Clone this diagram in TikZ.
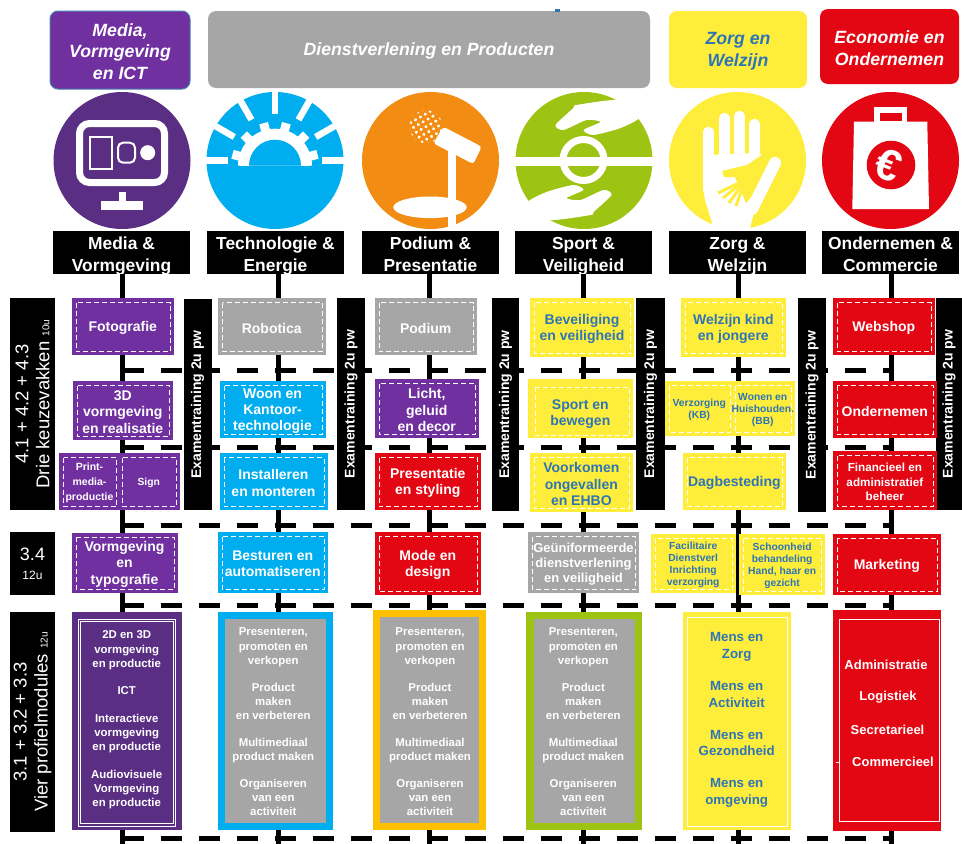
\documentclass[tikz,border=0pt]{standalone}
\usepackage{fontspec}
\setmainfont{Liberation Sans}
\definecolor{modpurple}{HTML}{7030A0}
\definecolor{iconpurple}{HTML}{5A2F83}
\definecolor{modgray}{HTML}{A6A6A6}
\definecolor{modblue}{HTML}{00AEEF}
\definecolor{modred}{HTML}{E30613}
\definecolor{modyellow}{HTML}{FFED3B}
\definecolor{modgreen}{HTML}{9DC313}
\definecolor{modorange}{HTML}{FFC000}
\definecolor{iconorange}{HTML}{F28C12}
\definecolor{labelblue}{HTML}{2E75B6}
\tikzset{
  header/.style={rectangle, rounded corners=8pt, fill=#1, text=white, align=center, inner sep=0pt,
                 font=\fontsize{17.7}{21.5}\selectfont\bfseries\itshape},
  sectorlabel/.style={rectangle, fill=black, inner sep=0pt,
                 minimum width=137pt, minimum height=43pt},
  sectortext/.style={text=white, align=center, inner sep=0pt,
                 font=\fontsize{17.4}{21.7}\selectfont\bfseries},
  yearblock/.style={rectangle, fill=black, text=white, align=center, inner sep=0pt,
                 rotate=90, font=\fontsize{18.5}{21}\selectfont},
  exambar/.style={rectangle, fill=black, text=white, align=center, inner sep=0pt,
                 rotate=90, minimum height=28pt,
                 font=\fontsize{14}{16}\selectfont\bfseries},
  mod/.style={rectangle, fill=#1, text=white, align=center, inner sep=0pt, outer sep=0pt,
              font=\fontsize{14}{16.3}\selectfont\bfseries},
  modsmall/.style={font=\fontsize{10.3}{12.2}\selectfont\bfseries},
  modmid/.style={font=\fontsize{11.7}{14.5}\selectfont\bfseries},
  innerdash/.style={white, line width=1pt, dash pattern=on 5pt off 3pt},
  spine/.style={black, line width=5pt},
  tierline/.style={black, line width=5pt, dash pattern=on 21pt off 17pt},
  proftext/.style={text=white, align=center, inner sep=0pt,
              font=\fontsize{11.4}{14.3}\selectfont\bfseries},
}
% node from its corners: name, left, top, right, bottom, options, text
\newcommand{\rectnode}[7]{%
  \pgfmathsetmacro\boxcx{(#2+#4)/2}\pgfmathsetmacro\boxcy{(#3+#5)/2}%
  \pgfmathsetmacro\boxw{#4-#2}\pgfmathsetmacro\boxh{#5-#3}%
  \node[#6, minimum width=\boxw pt, minimum height=\boxh pt] (#1) at (\boxcx,\boxcy) {};
  \node[#6, fill=none, draw=none, yshift=-1.5pt] (#1text) at (#1.center) {#7};}
% same, with the dashed inner frame
\newcommand{\modbox}[7]{%
  \rectnode{#1}{#2}{#3}{#4}{#5}{#6}{#7}
  \draw[innerdash] ([xshift=4.5pt,yshift=-4.5pt]#1.north west) rectangle ([xshift=-3.5pt,yshift=3.5pt]#1.south east);}
% black sector name, both lines on fixed baselines
\newcommand{\sector}[4]{%
  \node[sectorlabel] (sec#1) at (#2,252.5) {};
  \node[sectortext] (sec#1text) at (sec#1.center) {\rule{0pt}{21.8pt}#3\\#4\rule[-6.5pt]{0pt}{0pt}};}
\begin{document}
\begin{tikzpicture}[x=1pt, y=-1pt]
  \useasboundingbox (0,0) rectangle (962,844);

  % headers
  \rectnode{hdrMedia}{50}{11}{190}{89}{header=modpurple, draw=labelblue!80!modgray, line width=1pt}{Media,\\Vormgeving\\en ICT}
  \rectnode{hdrDienst}{208}{11}{650}{88}{header=modgray}{Dienstverlening en Producten}
  \rectnode{hdrZorg}{669}{11}{807}{88}{header=modyellow, text=labelblue}{Zorg en\\Welzijn}
  \rectnode{hdrEco}{820}{9}{959}{84}{header=modred}{Economie en\\Ondernemen}
  \fill[labelblue] (555,9) rectangle (560,11.5);

  % icons
  \fill[iconpurple] (122,160.5) circle (68.5);
  \draw[white, line width=7pt, rounded corners=10pt] (79.5,123.5) rectangle (164.5,182.5);
  \draw[white, line width=2pt] (89.5,136.7) rectangle (111.5,169.3);
  \draw[white, line width=2pt, rounded corners=5pt] (118,142.7) rectangle (135,162.7);
  \fill[white] (147.7,152.7) circle (7.5);
  \fill[white] (101,201) rectangle (143,210);
  \fill[white] (119.3,191.7) rectangle (126,201);

  \fill[modblue] (275,160.5) circle (68.5);
  \foreach \a in {0,30,...,180}
    \draw[white, line width=6.5pt] (275,160.5) ++(-\a:47) -- ++(-\a:24);
  \fill[white] (312,165.7) arc (0:-180:37) -- cycle;
  \foreach \a in {15,45,...,165}
    \draw[white, line width=9pt] (275,165.7) ++(-\a:33) -- ++(-\a:11);
  \fill[white] (240,158) rectangle (250,165.7);
  \fill[white] (300,158) rectangle (310,165.7);
  \fill[modblue] (301,165.7) arc (0:-180:26) -- cycle;

  \fill[iconorange] (430.5,160.5) circle (68.5);
  \begin{scope}[shift={(426,126.7)}, rotate=30]
    \clip (0,0) circle (16.5);
    \foreach \i in {-3,...,3}
      \foreach \j in {-3,...,3}
        \fill[white] (5.6*\i,5.6*\j) circle (1.7);
  \end{scope}
  \fill[white, rounded corners=3pt] (443.3,126.7) -- (481.7,146.7) -- (473.3,164) -- (433.3,143.3) -- cycle;
  \fill[white] (448,150) rectangle (456,229);
  \fill[white] (430,207.3) ellipse (36.7 and 10.8);

  \fill[modgreen] (584,160.5) circle (68.5);
  \fill[white] (515,156.7) rectangle (653,165.7);
  \draw[white, line width=7pt] (583.5,160) circle (20.5);
  \begin{scope}[shift={(583.5,160)}]
    \fill[white] plot[smooth cycle, tension=.4] coordinates {(-7,-55) (37,-60) (56,-43) (37,-32) (10,-25) (0,-30)
      (17,-38) (3,-40) (-20,-30) (-28,-35) (-10,-52)};
    \fill[white, rotate=180] plot[smooth cycle, tension=.4] coordinates {(-7,-55) (37,-60) (56,-43) (37,-32) (10,-25) (0,-30)
      (17,-38) (3,-40) (-20,-30) (-28,-35) (-10,-52)};
  \end{scope}

  \fill[modyellow] (737.5,160.5) circle (68.5);
  \draw[white, line width=10.5pt, line cap=round] (708.3,132) -- (708.3,190);
  \draw[white, line width=10.5pt, line cap=round] (724.3,118) -- (724.3,165);
  \draw[white, line width=10.5pt, line cap=round] (739.3,116) -- (739.3,165);
  \draw[white, line width=10.5pt, line cap=round] (754.3,124) -- (754.3,165);
  \fill[white] (703,155) -- (760,153) -- (770,175) -- (755,207) -- (750,229) -- (714,229) -- (705,200) -- (703,187) -- cycle;
  \fill[modyellow] (772,148) -- (747,165) -- (722,171) -- (724,177) -- (735,177) -- (746,203) -- (780,165) -- cycle;
  \foreach \tipx/\tipy in {718/193,723/198,729/203,736/206}
    \draw[modyellow, line width=3pt] (745,180) -- (\tipx,\tipy);
  \draw[white, line width=12pt, line cap=round] (775,163) -- (752,209);

  \fill[modred] (890.5,160.5) circle (68.5);
  \fill[white] (854,121.7) -- (927.3,121.7) -- (929,209) -- (852.3,209) -- cycle;
  \fill[white] (874.3,107.3) rectangle (907.3,122);
  \fill[modred] (880,113.3) rectangle (901.7,120.7);
  \fill[modred] (891,165) circle (24.3);
  \node[text=white, rotate=-22, font=\fontsize{44}{44}\selectfont\bfseries, inner sep=0pt] (euro) at (889,165) {€};

  % sector names
  \sector{Media}{121.5}{Media \&}{Vormgeving}
  \sector{Tech}{275.5}{Technologie \&}{Energie}
  \sector{Podium}{430.5}{Podium \&}{Presentatie}
  \sector{Sport}{583.5}{Sport \&}{Veiligheid}
  \sector{Zorg}{737.5}{Zorg \&}{Welzijn}
  \sector{Onder}{890.5}{Ondernemen \&}{Commercie}

  % lines down and dashed tiers
  \foreach \n/\x in {Media/122.5,Tech/278,Podium/429.5,Sport/583,Zorg/738,Onder/891.5} {
    \coordinate (foot\n) at (\x,844);
    \draw[spine] (sec\n.south -| foot\n) -- (foot\n);
  }
  \foreach \y [count=\n] in {370.5,447,525.5,605,838} {
    \coordinate (tierL\n) at (122.5,\y);
    \coordinate (tierR\n) at (893,\y);
    \draw[tierline] (tierL\n) -- (tierR\n);
  }

  % year blocks
  \node[yearblock, minimum width=212pt, minimum height=45pt] (year4) at (32.5,404)
    {4.1 + 4.2 + 4.3\\Drie keuzevakken {\fontsize{10}{10}\selectfont 10u}};
  \node[rectangle, fill=black, text=white, align=center, inner sep=0pt, minimum width=45pt, minimum height=63pt,
        font=\fontsize{18}{20}\selectfont] (year34) at (32.5,563.5) {3.4\\[-1pt]{\fontsize{12}{12}\selectfont 12u}};
  \node[yearblock, minimum width=220pt, minimum height=45pt] (year3) at (32.5,722)
    {3.1 + 3.2 + 3.3\\Vier profielmodules {\fontsize{10}{10}\selectfont 12u}};

  % exam bars
  \node[exambar, minimum width=211pt] (exam1) at (197.5,404.5) {Examentraining 2u pw};
  \node[exambar, minimum width=212pt] (exam2) at (351,404) {Examentraining 2u pw};
  \node[exambar, minimum width=213pt, minimum height=27pt] (exam3) at (505.5,404.5) {Examentraining 2u pw};
  \node[exambar, minimum width=212pt, minimum height=29pt] (exam4) at (650.5,404) {Examentraining 2u pw};
  \node[exambar, minimum width=214pt] (exam5) at (812,405) {Examentraining 2u pw};
  \node[exambar, minimum width=212pt, minimum height=26pt] (exam6) at (949,404) {Examentraining 2u pw};

  % Media column
  \modbox{foto}{71.5}{298}{174}{355}{mod=modpurple}{Fotografie}
  \modbox{drieD}{73}{381}{172.5}{440}{mod=modpurple}{3D\\vormgeving\\en realisatie}
  \modbox{print}{59}{453}{120}{510}{mod=modpurple, font=\fontsize{10.5}{15}\selectfont\bfseries}{Print-\\media-\\productie}
  \modbox{sign}{118}{453}{179.5}{510}{mod=modpurple, modsmall}{Sign}
  \modbox{typo}{71.5}{532.5}{177.5}{593}{mod=modpurple}{Vormgeving\\en\\typografie}
  \rectnode{profMedia}{71.5}{612}{181.5}{830}{mod=iconpurple}{}
  \draw[white, line width=.7pt] (78.7,619) rectangle (175.7,826);
  \draw[white, line width=.7pt] (80.8,621.2) rectangle (173.6,823.8);
  \node[proftext] (txtMedia) at (126.7,720) {2D en 3D\\vormgeving\\en productie\\[13pt]ICT\\[13pt]Interactieve\\vormgeving\\en productie\\[13pt]Audiovisuele\\Vormgeving\\en productie};

  % Technologie column
  \modbox{robot}{218}{298}{325.5}{355}{mod=modgray}{Robotica}
  \modbox{woon}{219.5}{381}{325.5}{438}{mod=modblue}{Woon en\\Kantoor-\\technologie}
  \modbox{install}{219.5}{453}{327.5}{510}{mod=modblue}{Installeren\\en monteren}
  \modbox{besturen}{218}{532}{327.5}{593}{mod=modblue}{Besturen en\\automatiseren}
  \rectnode{profTech}{218}{612}{332.5}{830}{mod=modblue}{}
  \rectnode{grayTech}{225}{619}{325.5}{822.5}{mod=modgray}{}
  \node[proftext] (txtTech) at (273.3,722) {Presenteren,\\promoten en\\verkopen\\[12.3pt]Product\\maken\\en verbeteren\\[12.3pt]Multimediaal\\product maken\\[12.3pt]Organiseren\\van een\\activiteit};

  % Podium column
  \modbox{podium}{374.5}{298}{477}{355}{mod=modgray}{Podium}
  \modbox{licht}{374.5}{379}{479}{438}{mod=modpurple}{Licht,\\geluid\\en decor}
  \modbox{present}{374.5}{453}{481}{510}{mod=modred}{Presentatie\\en styling}
  \modbox{mode}{374.5}{532}{481}{595}{mod=modred}{Mode en\\design}
  \rectnode{profPodium}{373}{610}{486}{830}{mod=modorange}{}
  \rectnode{grayPodium}{380}{617}{479}{822.5}{mod=modgray}{}
  \node[proftext] (txtPodium) at (430,722) {Presenteren,\\promoten en\\verkopen\\[12.3pt]Product\\maken\\en verbeteren\\[12.3pt]Multimediaal\\product maken\\[12.3pt]Organiseren\\van een\\activiteit};

  % Sport column
  \modbox{bevel}{530}{298}{634}{357}{mod=modyellow, text=labelblue}{Beveiliging\\en veiligheid}
  \rectnode{sport}{528}{379}{632.7}{438}{mod=modyellow, text=labelblue}{\rule{0pt}{18pt}Sport en\\bewegen}
  \draw[innerdash] ([xshift=7pt,yshift=-8pt]sport.north west) rectangle ([xshift=-3pt,yshift=3pt]sport.south east);
  \modbox{voork}{530}{453}{632.7}{512}{mod=modyellow, text=labelblue}{Voorkomen\\ongevallen\\en EHBO}
  \modbox{uniform}{528}{532}{639}{593}{mod=modgray, font=\fontsize{13}{15}\selectfont\bfseries}{Geüniformeerde\\dienstverlening\\en veiligheid}
  \rectnode{profSport}{526}{612}{641.5}{830}{mod=modgreen}{}
  \rectnode{graySport}{533.5}{619}{634.5}{822.5}{mod=modgray}{}
  \node[proftext] (txtSport) at (583.3,722) {Presenteren,\\promoten en\\verkopen\\[12.3pt]Product\\maken\\en verbeteren\\[12.3pt]Multimediaal\\product maken\\[12.3pt]Organiseren\\van een\\activiteit};

  % Zorg column
  \modbox{welz}{681}{298}{785.7}{357}{mod=modyellow, text=labelblue}{Welzijn kind\\en jongere}
  \modbox{verz}{665}{381}{733.5}{436}{mod=modyellow, text=labelblue, modsmall}{Verzorging\\(KB)}
  \modbox{wonen}{730.5}{381}{795}{436}{mod=modyellow, text=labelblue, modsmall}{Wonen en\\Huishouden.\\(BB)}
  \modbox{dag}{683}{453}{785.7}{510}{mod=modyellow, text=labelblue}{Dagbesteding}
  \modbox{facil}{650.7}{534}{735.7}{593}{mod=modyellow, text=labelblue, modsmall}{Facilitaire\\Dienstverl\\Inrichting\\verzorging}
  \modbox{schoon}{739.3}{534}{825}{595}{mod=modyellow, text=labelblue, modsmall}{Schoonheid\\behandeling\\Hand, haar en\\gezicht}
  \rectnode{profZorg}{683}{612}{791}{830}{mod=modyellow}{}
  \draw[white, line width=1pt] (687.5,617.5) rectangle (787,826);
  \node[proftext, text=labelblue, font=\fontsize{13.3}{16.5}\selectfont\bfseries] (txtZorg) at (736.7,720) {Mens en\\Zorg\\[15.7pt]Mens en\\Activiteit\\[15.7pt]Mens en\\Gezondheid\\[15.7pt]Mens en\\omgeving};

  % Ondernemen column
  \modbox{web}{832.7}{298}{935}{355}{mod=modred}{Webshop}
  \modbox{onder}{832.7}{381}{937}{438}{mod=modred}{Ondernemen}
  \modbox{finan}{832.7}{451}{937}{510}{mod=modred, modmid}{Financieel en\\administratief\\beheer}
  \modbox{market}{832.7}{534}{941}{595}{mod=modred}{Marketing}
  \rectnode{profOnder}{832.7}{610}{941}{831}{mod=modred}{}
  \draw[white, line width=1pt] (839,619.5) rectangle (939,821);
  \node[proftext, font=\fontsize{13}{15}\selectfont\bfseries] (admin) at (886,665) {Administratie};
  \node[proftext, font=\fontsize{13}{15}\selectfont\bfseries] (logis) at (888,697) {Logistiek};
  \node[proftext, font=\fontsize{13}{15}\selectfont\bfseries] (secret) at (887.5,730) {Secretarieel};
  \node[proftext, font=\fontsize{13}{15}\selectfont\bfseries] (comm) at (893,762) {Commercieel};
  \draw[white, line width=1pt] (835.5,762) -- (839,762);
\end{tikzpicture}
\end{document}
